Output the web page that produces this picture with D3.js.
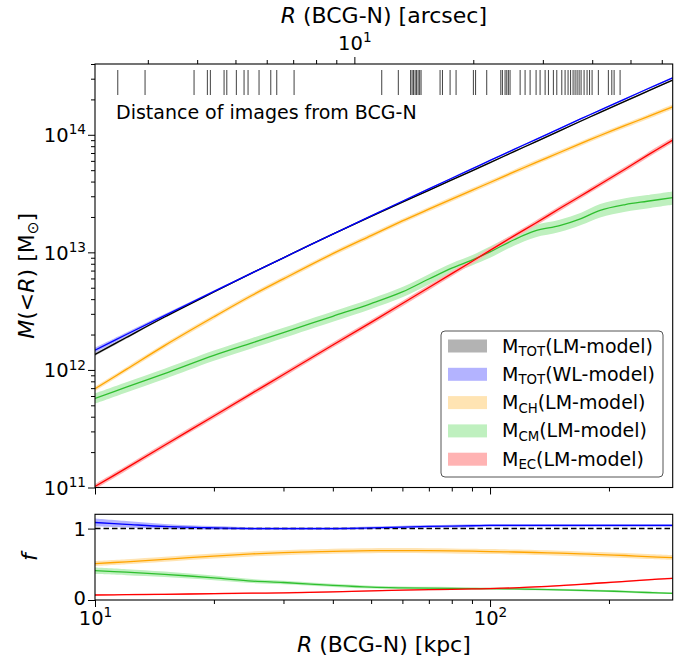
<!DOCTYPE html>
<html><head><meta charset="utf-8">
<script src="https://cdn.jsdelivr.net/npm/d3@7"></script>
<style>
body{margin:0;background:#fff}
text{font-family:"DejaVu Sans",sans-serif;fill:#000}
</style></head>
<body><svg id="c" width="687" height="661"></svg>
<script>
// ---------------- data ----------------
const radiusKpc = [10,12,15,20,25,30,40,50,60,70,80,90,100,115,130,150,170,190,220,250,290];
const mTotLM = [1.355e12,1.887e12,2.82e12,4.60e12,6.69e12,8.99e12,1.43e13,2.02e13,2.67e13,3.37e13,4.13e13,4.93e13,5.79e13,7.19e13,8.67e13,1.08e14,1.31e14,1.55e14,1.93e14,2.34e14,2.92e14];
const mTotWL = [1.47e12,2.00e12,2.90e12,4.65e12,6.69e12,8.99e12,1.43e13,2.04e13,2.72e13,3.47e13,4.27e13,5.13e13,6.05e13,7.51e13,9.06e13,1.13e14,1.37e14,1.62e14,2.02e14,2.45e14,3.05e14];
const mCH = [6.91e11,1.01e12,1.61e12,2.83e12,4.32e12,5.95e12,9.75e12,1.39e13,1.85e13,2.33e13,2.84e13,3.37e13,3.93e13,4.83e13,5.77e13,7.07e13,8.45e13,9.86e13,1.20e14,1.42e14,1.73e14];
const mCM = [5.73e11,7.13e11,9.31e11,1.33e12,1.70e12,2.08e12,2.86e12,3.67e12,4.61e12,5.93e12,7.35e12,8.59e12,1.01e13,1.28e13,1.52e13,1.69e13,1.94e13,2.28e13,2.55e13,2.72e13,2.92e13];
const mEC = [1.02e11,1.46e11,2.29e11,4.06e11,6.35e11,9.14e11,1.63e12,2.54e12,3.67e12,5.02e12,6.59e12,8.37e12,1.04e13,1.38e13,1.76e13,2.36e13,3.03e13,3.80e13,5.12e13,6.68e13,9.02e13];
// relative half-widths of the uncertainty bands
const errTotLM = [0.03,0.025,0.02,0.015,0.015,0.015,0.015,0.015,0.015,0.015,0.015,0.015,0.015,0.015,0.015,0.015,0.015,0.015,0.015,0.015,0.015];
const errTotWL = [0.05,0.04,0.03,0.02,0.015,0.015,0.015,0.015,0.015,0.015,0.015,0.015,0.015,0.015,0.015,0.015,0.015,0.015,0.015,0.015,0.015];
const errCH = [0.045,0.045,0.045,0.045,0.045,0.045,0.045,0.045,0.045,0.045,0.045,0.045,0.045,0.045,0.045,0.045,0.045,0.045,0.045,0.045,0.045];
const errCM = [0.10,0.10,0.10,0.10,0.10,0.10,0.10,0.10,0.10,0.10,0.10,0.10,0.11,0.11,0.12,0.12,0.12,0.13,0.13,0.13,0.13];
const errEC = [0.05,0.05,0.05,0.05,0.05,0.05,0.05,0.05,0.05,0.05,0.05,0.05,0.05,0.05,0.05,0.05,0.05,0.05,0.05,0.05,0.05];
// fractions (lower panel)
const fWL = [1.085,1.06,1.03,1.01,1.0,1.0,1.0,1.01,1.02,1.03,1.035,1.04,1.045,1.045,1.045,1.045,1.045,1.045,1.045,1.045,1.045];
const fCH = [0.51,0.535,0.57,0.615,0.645,0.662,0.682,0.69,0.692,0.69,0.687,0.683,0.678,0.672,0.665,0.655,0.645,0.636,0.623,0.608,0.593];
const fCM = [0.41,0.39,0.36,0.31,0.265,0.245,0.205,0.18,0.17,0.165,0.162,0.16,0.158,0.155,0.15,0.143,0.135,0.128,0.117,0.105,0.093];
const fEC = [0.07,0.075,0.08,0.088,0.095,0.10,0.115,0.128,0.138,0.145,0.15,0.155,0.16,0.17,0.183,0.2,0.22,0.238,0.26,0.283,0.304];
const fErrWL = [0.055,0.045,0.035,0.025,0.02,0.02,0.02,0.02,0.02,0.02,0.02,0.02,0.02,0.02,0.02,0.02,0.02,0.02,0.02,0.02,0.02];
const fErrCH = [0.035,0.035,0.035,0.035,0.035,0.035,0.035,0.035,0.035,0.035,0.035,0.035,0.035,0.035,0.035,0.035,0.035,0.035,0.035,0.035,0.035];
const fErrCM = [0.045,0.042,0.038,0.032,0.028,0.025,0.022,0.02,0.02,0.02,0.02,0.018,0.016,0.015,0.015,0.015,0.015,0.015,0.015,0.015,0.015];
const fErrEC = [0.01,0.01,0.01,0.01,0.01,0.01,0.01,0.01,0.01,0.01,0.01,0.01,0.01,0.01,0.01,0.01,0.01,0.01,0.01,0.01,0.01];
// distances of multiple images from BCG-N [arcsec]
const imageArcsec = [2.518,2.952,3.928,4.245,4.320,4.679,4.754,5.026,5.257,5.381,5.737,6.143,6.361,7.037,
 11.73,12.92,13.88,14.00,14.12,14.25,14.37,14.50,14.63,14.75,16.48,16.71,17.47,18.09,20.01,20.27,21.63,
 23.48,23.70,24.07,24.31,24.54,24.78,26.28,27.05,27.85,28.84,29.52,30.40,30.99,31.90,32.54,33.50,34.15,
 34.75,35.26,35.78,36.20,36.63,37.06,37.49,38.15,38.82,39.39,39.97,41.46,43.95,44.84,45.45,47.06];
const kpcPerArcsec = 4.535;
const massTicks = [1e11,1e12,1e13,1e14];
const fTicks = [0,1];
const legendLabels = [["M","TOT","(LM-model)"],["M","TOT","(WL-model)"],["M","CH","(LM-model)"],["M","CM","(LM-model)"],["M","EC","(LM-model)"]];

// ---------------- layout ----------------
const L = 95, R = 672.7, T1 = 64, B1 = 487.5, T2 = 514.3, B2 = 600;
const FS_TICK = 19.5, FS_LAB = 22, FS_LEG = 19;

const svg = d3.select("#c");
const x = d3.scaleLog().domain([10, 290]).range([L, R]);
const xTop = d3.scaleLog().domain([10/kpcPerArcsec, 290/kpcPerArcsec]).range([L, R]);
const y = d3.scaleLog().domain([1e11, 4e14]).range([B1, T1]);
const yf = d3.scaleLinear().domain([0, 1.2]).range([B2, T2]);

const series = [
  {m: mTotLM, e: errTotLM, line: "#000000", band: "#b3b3b3"},
  {m: mTotWL, e: errTotWL, line: "#0000ff", band: "#b3b3ff", f: fWL, fe: fErrWL},
  {m: mCH, e: errCH, line: "#ffa500", band: "#ffe4b3", f: fCH, fe: fErrCH},
  {m: mCM, e: errCM, line: "#2fbf2f", band: "#bff0bf", f: fCM, fe: fErrCM},
  {m: mEC, e: errEC, line: "#ff0000", band: "#ffb3b3", f: fEC, fe: fErrEC}
];

const defs = svg.append("defs");
defs.append("clipPath").attr("id","cp1").append("rect").attr("x",L).attr("y",T1).attr("width",R-L).attr("height",B1-T1);
defs.append("clipPath").attr("id","cp2").append("rect").attr("x",L).attr("y",T2).attr("width",R-L).attr("height",B2-T2);

const curve = d3.curveCatmullRom.alpha(0.5);
// main panel
const g1 = svg.append("g").attr("clip-path","url(#cp1)");
series.forEach(s => {
  const area = d3.area().curve(curve)
    .x((d,i)=>x(radiusKpc[i]))
    .y0((d,i)=>y(s.m[i]*(1-s.e[i])))
    .y1((d,i)=>y(s.m[i]*(1+s.e[i])));
  g1.append("path").attr("d", area(s.m)).attr("fill", s.band);
});
series.forEach(s => {
  const line = d3.line().curve(curve).x((d,i)=>x(radiusKpc[i])).y((d,i)=>y(s.m[i]));
  g1.append("path").attr("d", line(s.m)).attr("fill","none").attr("stroke", s.line).attr("stroke-width",1.3);
});

// image distance marks
svg.append("g").selectAll("line").data(imageArcsec).join("line")
  .attr("x1", d=>xTop(d)).attr("x2", d=>xTop(d)).attr("y1",70).attr("y2",95)
  .attr("stroke","#000").attr("stroke-width",1).attr("stroke-opacity",0.75);
svg.append("text").attr("x",116).attr("y",119).attr("font-size",FS_LEG).text("Distance of images from BCG-N");

// lower panel
const g2 = svg.append("g").attr("clip-path","url(#cp2)");
series.filter(s=>s.f).forEach(s => {
  const area = d3.area().curve(curve)
    .x((d,i)=>x(radiusKpc[i]))
    .y0((d,i)=>yf(s.f[i]-s.fe[i]))
    .y1((d,i)=>yf(s.f[i]+s.fe[i]));
  g2.append("path").attr("d", area(s.f)).attr("fill", s.band);
});
g2.append("line").attr("x1",L).attr("x2",R).attr("y1",yf(1)).attr("y2",yf(1))
  .attr("stroke","#000").attr("stroke-width",1.5).attr("stroke-dasharray","5.5,3");
series.filter(s=>s.f).forEach(s => {
  const line = d3.line().curve(curve).x((d,i)=>x(radiusKpc[i])).y((d,i)=>yf(s.f[i]));
  g2.append("path").attr("d", line(s.f)).attr("fill","none").attr("stroke", s.line).attr("stroke-width",1.3);
});

// frames
[[T1,B1],[T2,B2]].forEach(([t,b]) => svg.append("rect").attr("x",L).attr("y",t).attr("width",R-L).attr("height",b-t)
  .attr("fill","none").attr("stroke","#000").attr("stroke-width",1.1));

// ---------------- axes ----------------
function styleAxis(g){ g.select(".domain").remove(); g.selectAll(".tick line").attr("stroke","#000").attr("stroke-width",1); }
function pow10(sel, exp, anchor){
  sel.text(null).attr("text-anchor",anchor);
  sel.append("tspan").text("10");
  sel.append("tspan").attr("font-size",FS_TICK*0.7).attr("dy",-FS_TICK*0.4).text(exp);
}
function tickText(sel){ return sel.attr("dy",null).attr("font-size",FS_TICK).attr("fill","#000").attr("font-family",'"DejaVu Sans",sans-serif'); }
const minorMass = [];
[1e11,1e12,1e13,1e14].forEach(b=>{for(let k=2;k<=9;k++){const v=b*k; if(v<=4e14) minorMass.push(v);}});
const minorR = [20,30,40,50,60,70,80,90,200];
const minorArc = [3,4,5,6,7,8,9,20,30,40,50,60];

// main left
svg.append("g").attr("transform",`translate(${L},0)`).call(d3.axisLeft(y).tickValues(minorMass).tickSize(4).tickFormat("")).call(styleAxis);
const ly = svg.append("g").attr("transform",`translate(${L},0)`).call(d3.axisLeft(y).tickValues(massTicks).tickSize(7)).call(styleAxis);
ly.selectAll(".tick text").each(function(d){
  const t = tickText(d3.select(this)).attr("x",-9).attr("y",7);
  pow10(t, String(Math.round(Math.log10(d))), "end");
});
// main bottom (no labels)
svg.append("g").attr("transform",`translate(0,${B1})`).call(d3.axisBottom(x).tickValues(minorR).tickSize(4).tickFormat("")).call(styleAxis);
svg.append("g").attr("transform",`translate(0,${B1})`).call(d3.axisBottom(x).tickValues([10,100]).tickSize(7).tickFormat("")).call(styleAxis);
// top arcsec
svg.append("g").attr("transform",`translate(0,${T1})`).call(d3.axisTop(xTop).tickValues(minorArc).tickSize(4).tickFormat("")).call(styleAxis);
const tx = svg.append("g").attr("transform",`translate(0,${T1})`).call(d3.axisTop(xTop).tickValues([10]).tickSize(7)).call(styleAxis);
tx.selectAll(".tick text").each(function(d){
  const t = tickText(d3.select(this)).attr("y",-14);
  pow10(t, "1", "middle");
});
// lower left
const lf = svg.append("g").attr("transform",`translate(${L},0)`).call(d3.axisLeft(yf).tickValues(fTicks).tickSize(7).tickFormat(d3.format("d"))).call(styleAxis);
tickText(lf.selectAll(".tick text")).attr("x",-9).attr("y",d => d===0 ? 4 : 7);
// lower bottom
svg.append("g").attr("transform",`translate(0,${B2})`).call(d3.axisBottom(x).tickValues(minorR).tickSize(4).tickFormat("")).call(styleAxis);
const bx = svg.append("g").attr("transform",`translate(0,${B2})`).call(d3.axisBottom(x).tickValues([10,100]).tickSize(7)).call(styleAxis);
bx.selectAll(".tick text").each(function(d){
  const t = tickText(d3.select(this)).attr("y",25);
  pow10(t, String(Math.round(Math.log10(d))), "middle");
});

// axis titles
const tt = svg.append("text").attr("x",(L+R)/2).attr("y",23).attr("text-anchor","middle").attr("font-size",FS_LAB);
tt.append("tspan").attr("font-style","italic").text("R");
tt.append("tspan").text(" (BCG-N) [arcsec]");
const bt = svg.append("text").attr("x",(L+R)/2).attr("y",652).attr("text-anchor","middle").attr("font-size",FS_LAB);
bt.append("tspan").attr("font-style","italic").text("R");
bt.append("tspan").text(" (BCG-N) [kpc]");
const yt = svg.append("text").attr("transform",`translate(34,${(T1+B1)/2}) rotate(-90)`).attr("text-anchor","middle").attr("font-size",FS_LAB);
yt.append("tspan").attr("font-style","italic").text("M");
yt.append("tspan").text("(<");
yt.append("tspan").attr("font-style","italic").text("R");
yt.append("tspan").text(") [M");
yt.append("tspan").attr("font-size",FS_LAB*0.7).attr("dy",4).text("⊙");
yt.append("tspan").attr("dy",-4).text("]");
svg.append("text").attr("transform",`translate(37,${(T2+B2)/2}) rotate(-90)`).attr("text-anchor","middle")
  .attr("font-size",FS_LAB).attr("font-style","italic").text("f");

// legend
const lg = svg.append("g");
lg.append("rect").attr("x",441).attr("y",331).attr("width",222).attr("height",146).attr("rx",4)
  .attr("fill","#fff").attr("fill-opacity",0.8).attr("stroke","#555").attr("stroke-width",1);
legendLabels.forEach((lab,i)=>{
  const cy = 346 + i*28.3;
  lg.append("rect").attr("x",448).attr("y",cy-6.5).attr("width",39).attr("height",13).attr("fill",series[i].band);
  const t = lg.append("text").attr("x",502).attr("y",cy+6.5).attr("font-size",FS_LEG);
  t.append("tspan").text(lab[0]);
  t.append("tspan").attr("font-size",FS_LEG*0.7).attr("dy",3.5).text(lab[1]);
  t.append("tspan").attr("dy",-3.5).text(lab[2]);
});
</script></body></html>
